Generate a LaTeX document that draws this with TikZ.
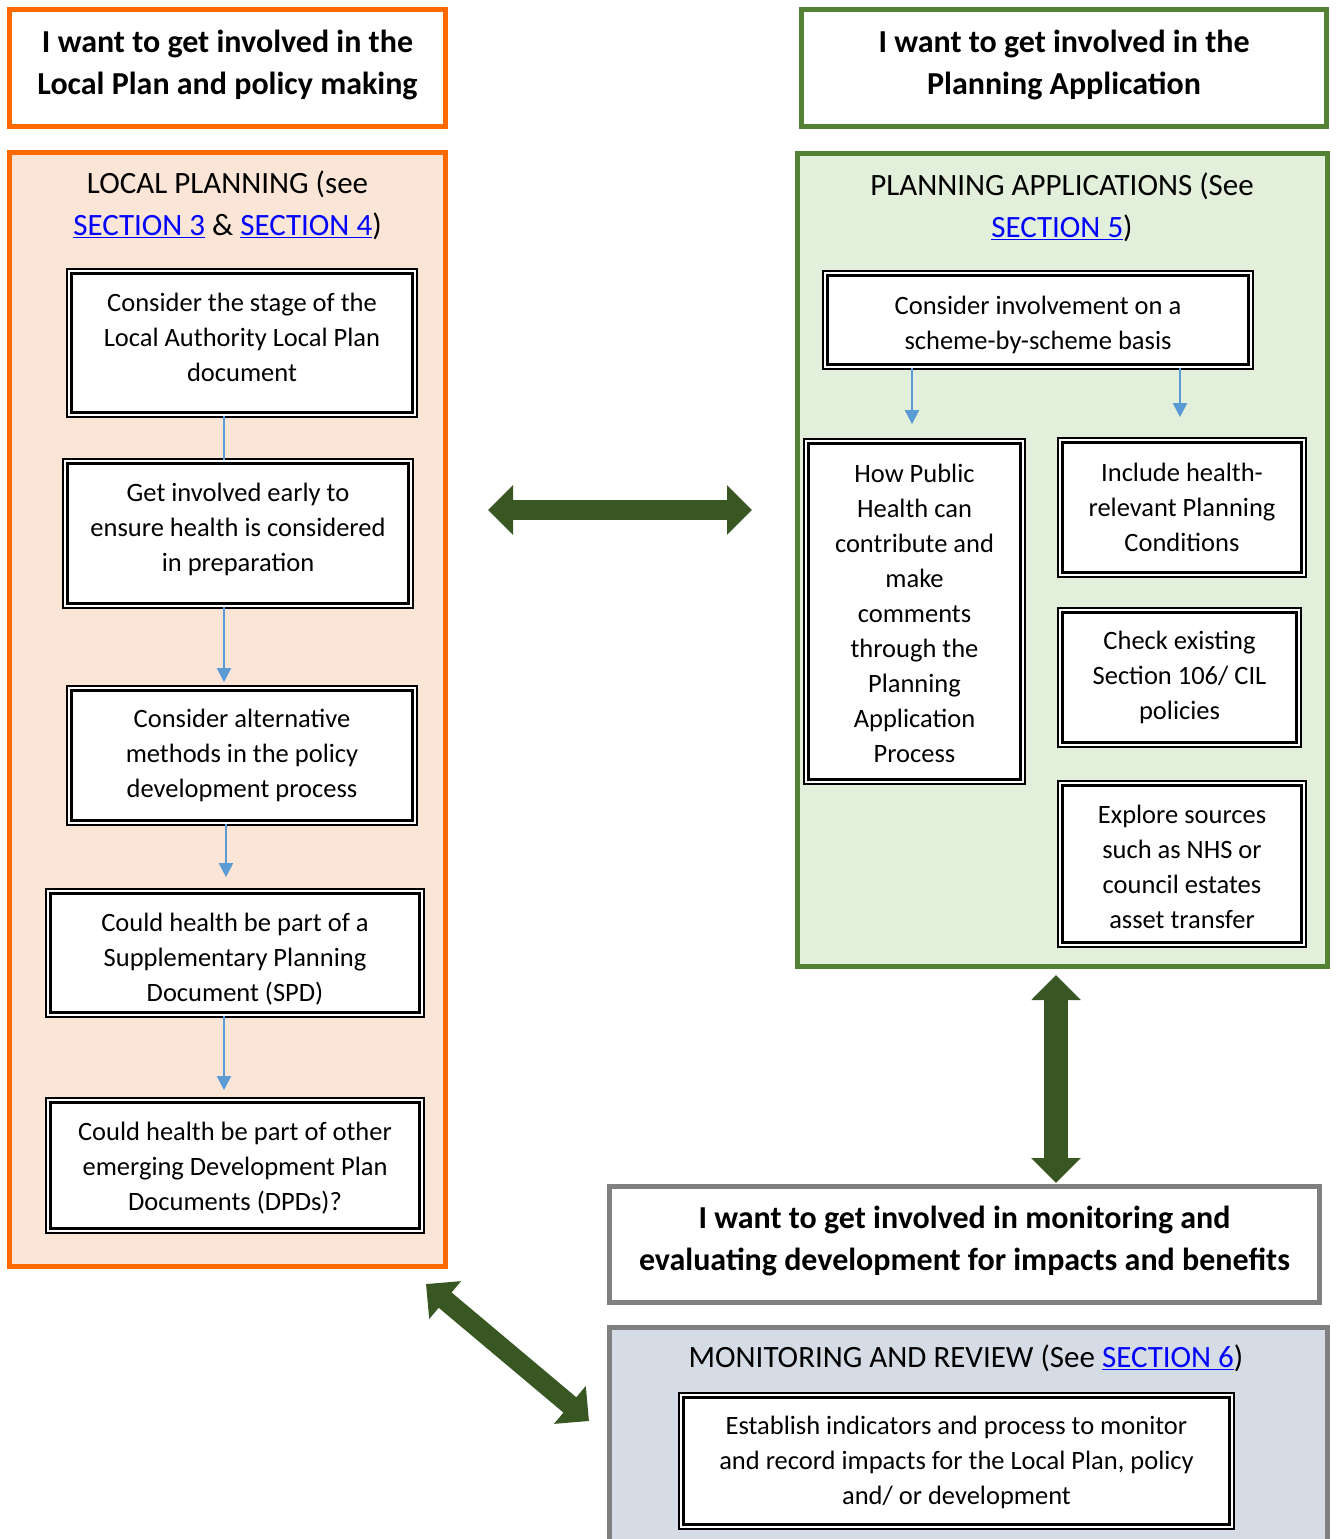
\documentclass[tikz,border=0pt]{standalone}
\usepackage{fontspec}
\setmainfont{Carlito}
\usetikzlibrary{arrows.meta,calc}
\definecolor{orangeb}{RGB}{255,106,0}
\definecolor{peach}{RGB}{251,229,214}
\definecolor{greenb}{RGB}{84,130,53}
\definecolor{greenf}{RGB}{226,239,218}
\definecolor{darkgreen}{RGB}{56,87,35}
\definecolor{grayb}{RGB}{128,128,128}
\definecolor{grayf}{RGB}{214,220,229}
\definecolor{flowblue}{RGB}{91,155,213}
\definecolor{linkblue}{RGB}{0,0,255}
\newcommand\mybody{\fontsize{26.5}{35}\selectfont}
\newcommand\myhead{\fontsize{32}{42}\selectfont\bfseries}
\newcommand\mytitle{\fontsize{31}{42}\selectfont}
\newcommand\lnk[1]{\textcolor{linkblue}{\underline{#1}}}
\begin{document}
\begin{tikzpicture}[x=1pt,y=-1pt,
  header/.style={draw, line width=5pt, fill=white, inner sep=0pt},
  htext/.style={align=center, font=\myhead, inner sep=0pt},
  panel/.style={draw, line width=5pt, inner sep=0pt},
  ptitle/.style={align=center, font=\mytitle, inner sep=0pt},
  ibox/.style={draw=black, double=white, line width=2.3pt, double distance=2pt, fill=white, inner sep=0pt},
  btext/.style={align=center, font=\mybody, inner sep=0pt},
  flow/.style={draw=flowblue, line width=2pt, -{Triangle[length=14pt,width=14pt]}},
  bigarrow/.style={draw=darkgreen, line width=#1, line cap=butt, {Triangle[length=25pt,width=48pt]}-{Triangle[length=25pt,width=48pt]}}
]
\useasboundingbox (0,0) rectangle (1336,1539);
% headers
\node[header, draw=orangeb, minimum width=436pt, minimum height=117pt,
  label={[htext, yshift=3pt]center:{I want to get involved in the\\Local Plan and policy making}}] (hl) at (227.5,68) {};
\node[header, draw=greenb, minimum width=525pt, minimum height=117pt,
  label={[htext, yshift=3pt]center:{I want to get involved in the\\Planning Application}}] (hr) at (1064,68) {};
% panels
\node[panel, draw=orangeb, fill=peach, minimum width=436pt, minimum height=1114pt] (lp) at (227.5,709.5) {};
\node[panel, draw=greenb, fill=greenf, minimum width=530pt, minimum height=813pt] (rp) at (1062.5,560) {};
\node[header, draw=grayb, minimum width=710pt, minimum height=116pt,
  label={[htext, yshift=4pt]center:{I want to get involved in monitoring and\\evaluating development for impacts and benefits}}] (hb) at (964.5,1244.5) {};
\node[panel, draw=grayb, fill=grayf, minimum width=718pt, minimum height=230pt] (bp) at (968.5,1442.5) {};
% titles
\node[ptitle] (tl) at (227.5,205) {LOCAL PLANNING (see\\\lnk{SECTION 3} \& \lnk{SECTION 4})};
\node[ptitle] (tr) at (1062,207) {PLANNING APPLICATIONS (See\\\lnk{SECTION 5})};
\node[ptitle] (tb) at (966,1358) {MONITORING AND REVIEW (See \lnk{SECTION 6})};
% left boxes
\node[ibox, minimum width=345.4pt, minimum height=143.4pt,
  label={[btext, yshift=6pt]center:{Consider the stage of the\\Local Authority Local Plan\\document}}] (b1) at (242,343) {};
\node[ibox, minimum width=345.4pt, minimum height=144.4pt,
  label={[btext, yshift=4pt]center:{Get involved early to\\ensure health is considered\\in preparation}}] (b2) at (238,533.5) {};
\node[ibox, minimum width=345.4pt, minimum height=134.4pt,
  label={[btext]center:{Consider alternative\\methods in the policy\\development process}}] (b3) at (242,755.5) {};
\node[ibox, minimum width=373.4pt, minimum height=123.4pt,
  label={[btext, yshift=-6pt]center:{Could health be part of a\\Supplementary Planning\\Document (SPD)}}] (b4) at (235,953) {};
\node[ibox, minimum width=373.4pt, minimum height=130.4pt,
  label={[btext, yshift=-3pt]center:{Could health be part of other\\emerging Development Plan\\Documents (DPDs)?}}] (b5) at (235,1165.5) {};
% right boxes
\node[ibox, minimum width=425.4pt, minimum height=93.4pt,
  label={[btext, yshift=-5pt]center:{Consider involvement on a\\scheme-by-scheme basis}}] (ra) at (1038,320) {};
\node[ibox, minimum width=216.4pt, minimum height=340.4pt,
  label={[btext, yshift=-2pt]center:{How Public\\Health can\\contribute and\\make\\comments\\through the\\Planning\\Application\\Process}}] (rb) at (914.5,611.5) {};
\node[ibox, minimum width=243.4pt, minimum height=134.4pt,
  label={[btext]center:{Include health-\\relevant Planning\\Conditions}}] (rc) at (1182,507.5) {};
\node[ibox, minimum width=238.4pt, minimum height=134.4pt,
  label={[btext]center:{Check existing\\Section 106/ CIL\\policies}}] (rd) at (1179.5,677.5) {};
\node[ibox, minimum width=243.4pt, minimum height=161.4pt,
  label={[btext, yshift=-3pt]center:{Explore sources\\such as NHS or\\council estates\\asset transfer}}] (re) at (1182,864) {};
% monitoring box
\node[ibox, minimum width=550.4pt, minimum height=131.4pt,
  label={[btext, yshift=-1pt]center:{Establish indicators and process to monitor\\and record impacts for the Local Plan, policy\\and/ or development}}] (mb) at (956.5,1461) {};
% flow connectors
\draw[draw=flowblue, line width=2pt] (b1.south -| 224,0) -- (b2.north -| 224,0);
\draw[flow, shorten >=5pt] (b2.south -| 224,0) -- (b3.north -| 224,0);
\draw[flow, shorten >=13pt] (b3.south -| 226,0) -- (b4.north -| 226,0);
\draw[flow, shorten >=9pt] (b4.south -| 224,0) -- (b5.north -| 224,0);
\draw[flow, shorten >=16pt] (ra.south -| 912,0) -- (rb.north -| 912,0);
\draw[flow, shorten >=22pt] (ra.south -| 1180,0) -- (rc.north -| 1180,0);
% big arrows
\coordinate (h1) at (488,510);
\coordinate (h2) at (752,510);
\coordinate (v1) at (1056,975);
\coordinate (v2) at (1056,1183);
\coordinate (d1) at (426,1284);
\coordinate (d2) at (589,1421);
\draw[bigarrow=20pt] (h1) -- (h2);
\draw[bigarrow=24pt] (v1) -- (v2);
\draw[bigarrow=20pt] (d1) -- (d2);
\end{tikzpicture}
\end{document}
